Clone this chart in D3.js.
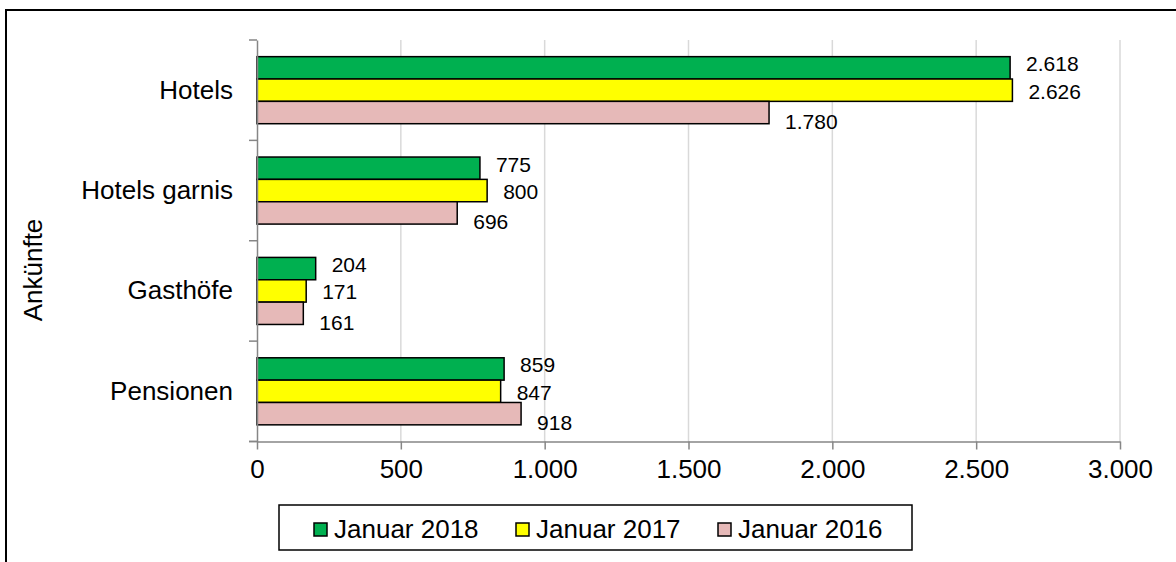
<!DOCTYPE html>
<html><head><meta charset="utf-8">
<script src="https://cdn.jsdelivr.net/npm/d3@7"></script>
<style>body{margin:0;background:#fff}svg{display:block;font-family:"Liberation Sans",Arial,sans-serif}</style>
</head><body>
<svg id="c" width="1176" height="562"></svg>
<script>
const categories = ["Hotels", "Hotels garnis", "Gasthöfe", "Pensionen"];
const seriesNames = ["Januar 2018", "Januar 2017", "Januar 2016"];
const jan2018 = [2618, 775, 204, 859];
const jan2017 = [2626, 800, 171, 847];
const jan2016 = [1780, 696, 161, 918];
const xTicks = [0, 500, 1000, 1500, 2000, 2500, 3000];
const yTitle = "Ankünfte";

const values = [jan2018, jan2017, jan2016];
const colors = ["#00B050", "#FFFF00", "#E6B9B8"];
const labelDy = [-4, 1, 9];
const fmt = v => d3.format(",")(v).replace(/,/g, ".");

const svg = d3.select("#c");
svg.append("rect").attr("x", 6).attr("y", 10).attr("width", 1200).attr("height", 600)
  .attr("fill", "#fff").attr("stroke", "#000").attr("stroke-width", 2);

const x = d3.scaleLinear().domain([0, 3000]).range([257, 1120]);
const y = d3.scaleBand().domain(categories).range([40, 441.5]).padding(0);
const bw = y.bandwidth();
const inner = d3.scaleBand().domain(seriesNames).range([bw * 0.166, bw * 0.834]).padding(0);

// gridlines
svg.append("g").selectAll("line").data(xTicks.slice(1)).join("line")
  .attr("x1", d => x(d)).attr("x2", d => x(d)).attr("y1", 40).attr("y2", 441.5)
  .attr("stroke", "#d9d9d9").attr("stroke-width", 1.5);

// bars
const groups = svg.append("g").selectAll("g").data(categories).join("g")
  .attr("transform", c => `translate(0,${y(c)})`);
seriesNames.forEach((s, si) => {
  groups.append("rect")
    .attr("x", x(0))
    .attr("y", inner(s))
    .attr("width", (c, i) => x(values[si][i]) - x(0))
    .attr("height", inner.bandwidth())
    .attr("fill", colors[si]).attr("stroke", "#000").attr("stroke-width", 1.5);
  groups.append("text")
    .attr("x", (c, i) => x(values[si][i]) + 16)
    .attr("y", inner(s) + inner.bandwidth() / 2 + labelDy[si])
    .attr("dy", "0.35em")
    .attr("font-size", 21).attr("fill", "#000")
    .text((c, i) => fmt(values[si][i]));
});

// y axis
const yAxis = svg.append("g").attr("transform", `translate(${x(0)},0)`)
  .call(d3.axisLeft(y).tickSize(0).tickPadding(24));
yAxis.select(".domain").attr("stroke", "#868686").attr("stroke-width", 1.5);
yAxis.selectAll("text").attr("font-size", 26).attr("fill", "#000").attr("font-family", "Liberation Sans, Arial, sans-serif");
const yEdges = categories.map(c => y(c)).concat([441.5]);
svg.append("g").selectAll("line").data(yEdges).join("line")
  .attr("x1", x(0) - 8).attr("x2", x(0)).attr("y1", d => d).attr("y2", d => d)
  .attr("stroke", "#868686").attr("stroke-width", 1.5);

// x axis
const xAxis = svg.append("g").attr("transform", "translate(0,441.5)")
  .call(d3.axisBottom(x).tickValues(xTicks).tickSize(8).tickPadding(10).tickFormat(fmt).tickSizeOuter(0));
xAxis.select(".domain").attr("stroke", "#868686").attr("stroke-width", 1.5);
xAxis.selectAll(".tick line").attr("stroke", "#868686").attr("stroke-width", 1.5);
xAxis.selectAll("text").attr("font-size", 26).attr("fill", "#000").attr("font-family", "Liberation Sans, Arial, sans-serif");
svg.append("line").attr("x1", x(0) - 8).attr("x2", x(0)).attr("y1", 441.5).attr("y2", 441.5)
  .attr("stroke", "#868686").attr("stroke-width", 1.5);

// y title
svg.append("text").attr("transform", "translate(42,270) rotate(-90)")
  .attr("text-anchor", "middle").attr("font-size", 26).attr("fill", "#000").text(yTitle);

// legend
svg.append("rect").attr("x", 279).attr("y", 505).attr("width", 633).attr("height", 45)
  .attr("fill", "#fff").attr("stroke", "#000").attr("stroke-width", 1.5);
const leg = svg.append("g").selectAll("g").data(seriesNames).join("g")
  .attr("transform", (d, i) => `translate(${314 + i * 202},0)`);
leg.append("rect").attr("x", 0).attr("y", 523).attr("width", 13).attr("height", 13)
  .attr("fill", (d, i) => colors[i]).attr("stroke", "#000").attr("stroke-width", 1.5);
leg.append("text").attr("x", 20).attr("y", 529).attr("dy", "0.35em")
  .attr("font-size", 26).attr("fill", "#000").text(d => d);
</script>
</body></html>
